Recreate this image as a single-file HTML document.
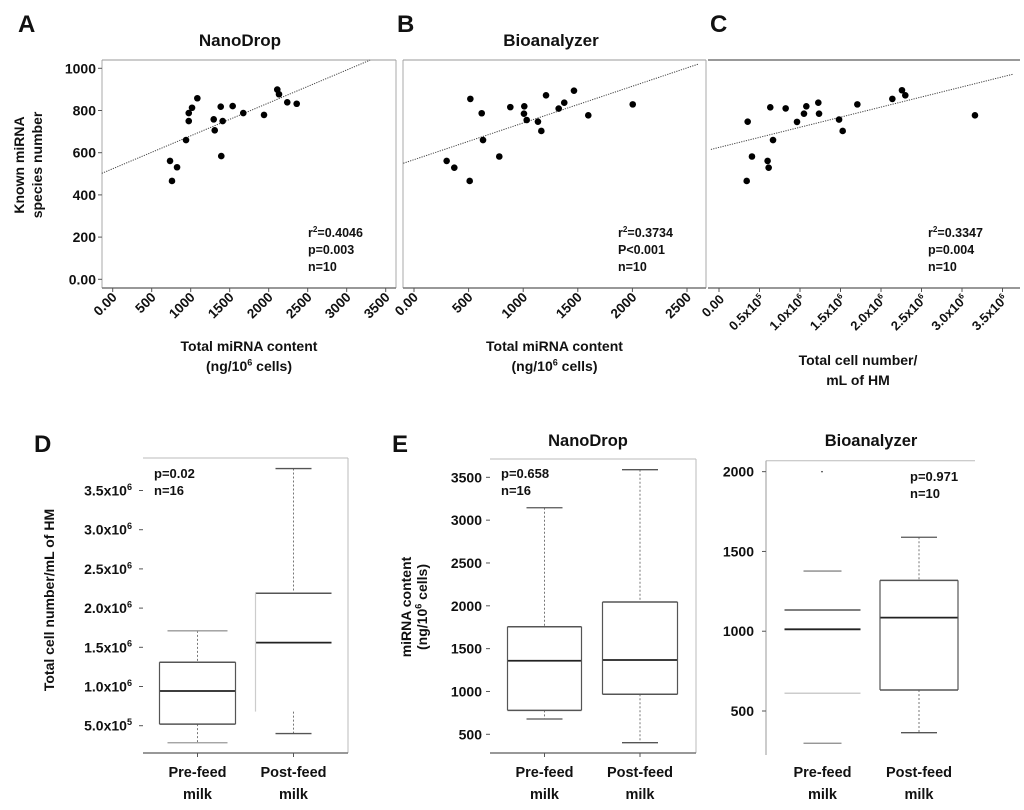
<!DOCTYPE html>
<html><head><meta charset="utf-8">
<style>
html,body{margin:0;padding:0;background:#fff;}
svg{display:block;font-family:"Liberation Sans",Arial,sans-serif;font-weight:bold;}
</style></head>
<body>
<svg id="fig" width="1024" height="810" viewBox="0 0 1024 810" xmlns="http://www.w3.org/2000/svg"></svg>
<script>
// ---- Panel A data (NanoDrop, total miRNA content vs known species) ----
const aX=[735,825,760,940,975,975,1017,1085,1295,1308,1385,1410,1392,1538,1674,1940,2110,2132,2238,2359];
const aY=[561,531,466,660,750,788,813,858,758,706,818,750,584,821,788,779,899,877,839,832];
const aFit=[524,0.156];
const aTicks=["0.00","500","1000","1500","2000","2500","3000","3500"];
const aTickVals=[0,500,1000,1500,2000,2500,3000,3500];
const yTicks=["0.00","200","400","600","800","1000"];
const yTickVals=[0,200,400,600,800,1000];
// ---- Panel B data (Bioanalyzer) ----
const bX=[299,369,510,516,620,632,781,882,1010,1007,1032,1135,1166,1209,1325,1376,1465,1596,2003];
const bY=[561,529,466,855,787,660,582,816,820,785,755,747,703,872,809,837,894,777,829];
const bFit=[567,0.174];
const bTicks=["0.00","500","1000","1500","2000","2500"];
const bTickVals=[0,500,1000,1500,2000,2500];
// ---- Panel C data (cell number, millions) ----
const cX=[0.342,0.354,0.407,0.600,0.613,0.633,0.667,0.823,0.963,1.049,1.078,1.226,1.235,1.482,1.527,1.708,2.140,2.259,2.300,3.160];
const cY=[466,747,582,561,529,815,660,810,746,785,820,837,785,757,703,829,855,896,872,777];
const cFit=[625,95.6];
const cTicks=[["0.00",""],["0.5x10","5"],["1.0x10","6"],["1.5x10","6"],["2.0x10","6"],["2.5x10","6"],["3.0x10","6"],["3.5x10","6"]];
const cTickVals=[0,0.5,1,1.5,2,2.5,3,3.5];
// ---- Panel D box data [min,q1,median,q3,max] (millions) ----
const dCats=["Pre-feed","Post-feed"];
const dPre=[0.283,0.52,0.943,1.31,1.71];
const dPost=[0.40,0.68,1.56,2.19,3.78];
const dTickVals=[0.5,1.0,1.5,2.0,2.5,3.0,3.5];
const dTicks=[["5.0x10","5"],["1.0x10","6"],["1.5x10","6"],["2.0x10","6"],["2.5x10","6"],["3.0x10","6"],["3.5x10","6"]];
// ---- Panel E NanoDrop ----
const eNPre=[679,780,1359,1756,3145];
const eNPost=[402,967,1367,2044,3589];
const eNTickVals=[500,1000,1500,2000,2500,3000,3500];
// ---- Panel E Bioanalyzer ----
const eBPre=[298,611,1012,1133,1377];
const eBPost=[364,632,1085,1319,1589];
const eBOutlier=[2000];
const eBTickVals=[500,1000,1500,2000];

const NS="http://www.w3.org/2000/svg";
const svg=document.getElementById('fig');
function el(tag,attrs,parent){const e=document.createElementNS(NS,tag);for(const k in attrs)e.setAttribute(k,attrs[k]);(parent||svg).appendChild(e);return e;}
function txt(x,y,s,size,anchor,name,extra){const t=el('text',Object.assign({x:x,y:y,'font-size':size,'text-anchor':anchor||'start',fill:'#111'},extra||{}));t.textContent=s;


return t;}
function supTxt(x,y,base,sup,size,anchor,name,extra,after){const t=el('text',Object.assign({x:x,y:y,'font-size':size,'text-anchor':anchor||'start',fill:'#111'},extra||{}));


const a=el('tspan',{},t);a.textContent=base;
if(sup){const b=el('tspan',{dy:-size*0.4,'font-size':size*0.65},t);b.textContent=sup;}
if(after){const c=el('tspan',{dy:sup?size*0.4:0},t);c.textContent=after;}
return t;}
function line(x1,y1,x2,y2,stroke,w,name,dash){const l=el('line',{x1:x1,y1:y1,x2:x2,y2:y2,stroke:stroke,'stroke-width':w});if(dash)l.setAttribute('stroke-dasharray',dash);


return l;}
function rotSup(x,y,base,sup,name,size){size=size||12.5;const t=el('text',{x:x,y:y,'font-size':size,'text-anchor':'end',fill:'#111',transform:'rotate(-45 '+x+' '+y+')'});


const a=el('tspan',{},t);a.textContent=base;if(sup){const b=el('tspan',{dy:-5,'font-size':8},t);b.textContent=sup;}return t;}

// panel letters
[["A",18,32],["B",397,32],["C",710,32],["D",34,452],["E",392,452]].forEach(p=>{txt(p[1],p[2],p[0],24,'start','panel-label-'+p[0].toLowerCase());});

// ===== Scatter panels =====
const yS=v=>279.3-v*0.211;
function scatter(id,title,tcx,frame,xs,ys,fit,tickVals,tickLabels,xScale,xmin,xmax,stats,xtitle,xtitleY,borders){
  txt(tcx,46,title,17,'middle',id+'-title');
  const [L,T,R,B]=frame;
  if(borders.left) line(L,T,L,B,'#aaa',1,id+'-frame-left');
  if(borders.right) line(R,T,R,B,'#aaa',1,id+'-frame-right');
  line(L,T,R,T,'#999',1,id+'-frame-top');
  line(L,B,R,B,'#777',1.5,id+'-x-axis');
  tickVals.forEach((v,i)=>{const x=xScale(v);line(x,B,x,B+4,'#555',1,id+'-x-tick');
    rotSup(x+5,B+10,tickLabels[i],'',id+'-x-tick-label',13.5);
  });
  line(xScale(xmin),yS(fit[0]+fit[1]*xmin),xScale(xmax),yS(fit[0]+fit[1]*xmax),'#444',1,id+'-trend-line','1.2,1.2');
  xs.forEach((v,i)=>{const c=el('circle',{cx:xScale(v),cy:yS(ys[i]),r:3.3,fill:'#000'});
    
    });
  const sx=R-88;
  supTxt(sx,237,'r','2',12.5,'start',id+'-r-squared',{},'='+stats[0]);
  txt(sx,254,stats[1],12.5,'start',id+'-p-value');
  txt(sx,271,'n=10',12.5,'start',id+'-n-value');
  const mx=(L+R)/2;
  txt(mx,xtitleY,xtitle[0],14,'middle',id+'-x-title-line1');
  supTxt(mx,xtitleY+20,'(ng/10','6',14,'middle',id+'-x-title-line2',{},' cells)');
}

const aXS=v=>112.7+v*0.078;
scatter('panel-a','NanoDrop',240,[102,60,396,288],aX,aY,aFit,aTickVals,aTicks,aXS,-140,3300,['0.4046','p=0.003'],['Total miRNA content'],351,{left:true,right:true});
yTickVals.forEach((v,i)=>{line(98,yS(v),102,yS(v),'#555',1,'panel-a-y-tick');txt(96,yS(v)+5,yTicks[i],14,'end','panel-a-y-tick-label');});
txt(0,0,'Known miRNA',14,'middle','panel-a-y-title-line1',{transform:'translate(24 165) rotate(-90)'});
txt(0,0,'species number',14,'middle','panel-a-y-title-line2',{transform:'translate(42 165) rotate(-90)'});

const bXS=v=>414+v*0.1092;
scatter('panel-b','Bioanalyzer',551,[403,60,706,288],bX,bY,bFit,bTickVals,bTicks,bXS,-98,2604,['0.3734','P<0.001'],['Total miRNA content'],351,{left:true,right:true});

const cXS=v=>719+v*81;
(function(){
  const id='panel-c';
  const L=708,T=60,R=1020,B=288;
  line(L,T,R,T,'#999',2,id+'-frame-top');
  line(L,B,R,B,'#777',1.5,id+'-x-axis');
  cTickVals.forEach((v,i)=>{const x=cXS(v);line(x,B,x,B+4,'#555',1,id+'-x-tick');rotSup(x+6,B+12,cTicks[i][0],cTicks[i][1],id+'-x-tick-label',13);});
  line(cXS(-0.1),yS(cFit[0]+cFit[1]*-0.1),cXS(3.63),yS(cFit[0]+cFit[1]*3.63),'#444',1,id+'-trend-line','1.2,1.2');
  cX.forEach((v,i)=>{const c=el('circle',{cx:cXS(v),cy:yS(cY[i]),r:3.3,fill:'#000'});
    
    });
  const sx=R-92;
  supTxt(sx,237,'r','2',12.5,'start',id+'-r-squared',{},'=0.3347');
  txt(sx,254,'p=0.004',12.5,'start',id+'-p-value');
  txt(sx,271,'n=10',12.5,'start',id+'-n-value');
  txt(858,365,'Total cell number/',14,'middle',id+'-x-title-line1');
  txt(858,385,'mL of HM',14,'middle',id+'-x-title-line2');
})();

// ===== Box plots =====
function box(id,ys,cx,hw,capw,d,opts){
  opts=opts||{};
  const [mn,q1,md,q3,mx]=d.map(ys);
  const g='#555';
  if(!opts.noWhiskers){
    line(cx,mx,cx,q3,'#777',1,id+'-upper-whisker','2,2');
    line(cx,q1,cx,mn,'#777',1,id+'-lower-whisker','2,2');
  }
  line(cx-capw,mx,cx+capw,mx,opts.capColor||g,1.3,id+'-max-cap');
  line(cx-capw,mn,cx+capw,mn,opts.capColor||g,1.3,id+'-min-cap');
  line(cx-hw,q3,cx+hw,q3,g,1.5,id+'-q3');
  if(!opts.noQ1) line(cx-hw,q1,cx+hw,q1,opts.q1Color||g,1.5,id+'-q1');
  line(cx-hw,md,cx+hw,md,'#222',1.8,id+'-median');
  if(!opts.noSides){line(cx-hw,q3,cx-hw,q1,opts.leftColor||g,1.2,id+'-box-left');
    if(!opts.noRight) line(cx+hw,q3,cx+hw,q1,g,1.2,id+'-box-right');}
}
// D
(function(){
  const ys=v=>725.7-(v-0.5)*78.4;
  line(143,458,348,458,'#bbb',1,'panel-d-frame-top');
  line(348,458,348,753,'#bbb',1,'panel-d-frame-right');
  line(143,753,348,753,'#777',1.5,'panel-d-x-axis');
  dTickVals.forEach((v,i)=>{line(139,ys(v),143,ys(v),'#555',1,'panel-d-y-tick');supTxt(132,ys(v)+5,dTicks[i][0],dTicks[i][1],14,'end','panel-d-y-tick-label');});
  box('panel-d-pre',ys,197.5,38,30,dPre,{capColor:'#999'});
  box('panel-d-post',ys,293.5,38,18,dPost,{noQ1:true,noRight:true,leftColor:'#ccc'});
  txt(154,478,'p=0.02',13,'start','panel-d-p-value');
  txt(154,495,'n=16',13,'start','panel-d-n-value');
  txt(0,0,'Total cell number/mL of HM',14,'middle','panel-d-y-title',{transform:'translate(54 600) rotate(-90)'});
  [197.5,293.5].forEach((x,i)=>{line(x,753,x,757,'#555',1,'panel-d-x-tick');txt(x,777,dCats[i],14.5,'middle','panel-d-x-label-'+i);txt(x,799,'milk',14.5,'middle','panel-d-x-label-milk-'+i);});
})();
// E NanoDrop
(function(){
  const ys=v=>734.3-(v-500)*0.08566;
  txt(588,446,'NanoDrop',16.5,'middle','panel-e-nanodrop-title');
  line(490,459,696,459,'#bbb',1,'panel-e-nanodrop-frame-top');
  line(696,459,696,753,'#bbb',1,'panel-e-nanodrop-frame-right');
  line(490,753,696,753,'#777',1.5,'panel-e-nanodrop-x-axis');
  eNTickVals.forEach(v=>{line(486,ys(v),490,ys(v),'#555',1,'panel-e-nanodrop-y-tick');txt(482,ys(v)+5,String(v),14,'end','panel-e-nanodrop-y-tick-label');});
  box('panel-e-nanodrop-pre',ys,544.5,37,18,eNPre);
  box('panel-e-nanodrop-post',ys,640,37.5,18,eNPost);
  txt(501,478,'p=0.658',13,'start','panel-e-nanodrop-p-value');
  txt(501,495,'n=16',13,'start','panel-e-nanodrop-n-value');
  txt(0,0,'miRNA content',14,'middle','panel-e-y-title-line1',{transform:'translate(411 607) rotate(-90)'});
  supTxt(0,0,'(ng/10','6',14,'middle','panel-e-y-title-line2',{transform:'translate(427 607) rotate(-90)'},' cells)');
  [544.5,640].forEach((x,i)=>{line(x,753,x,757,'#555',1,'panel-e-nanodrop-x-tick');txt(x,777,dCats[i],14.5,'middle','panel-e-nanodrop-x-label-'+i);txt(x,799,'milk',14.5,'middle','panel-e-nanodrop-x-label-milk-'+i);});
})();
// E Bioanalyzer
(function(){
  const ys=v=>711-(v-500)*0.15956;
  txt(871,446,'Bioanalyzer',16.5,'middle','panel-e-bioanalyzer-title');
  line(766,460.7,975,460.7,'#bbb',1,'panel-e-bioanalyzer-frame-top');
  line(766,460.7,766,755,'#999',1,'panel-e-bioanalyzer-y-axis');
  eBTickVals.forEach(v=>{line(762,ys(v),766,ys(v),'#555',1,'panel-e-bioanalyzer-y-tick');txt(754,ys(v)+5,String(v),14,'end','panel-e-bioanalyzer-y-tick-label');});
  box('panel-e-bioanalyzer-pre',ys,822.5,38,19,eBPre,{noSides:true,noWhiskers:true,q1Color:'#ccc',capColor:'#888'});
  box('panel-e-bioanalyzer-post',ys,919,39,18,eBPost);
  eBOutlier.forEach(v=>{const c=el('circle',{cx:822,cy:ys(v),r:0.8,fill:'#333'});
    
    });
  txt(910,481,'p=0.971',13,'start','panel-e-bioanalyzer-p-value');
  txt(910,498,'n=10',13,'start','panel-e-bioanalyzer-n-value');
  [822.5,919].forEach((x,i)=>{txt(x,777,dCats[i],14.5,'middle','panel-e-bioanalyzer-x-label-'+i);txt(x,799,'milk',14.5,'middle','panel-e-bioanalyzer-x-label-milk-'+i);});
})();
</script>
</body></html>
